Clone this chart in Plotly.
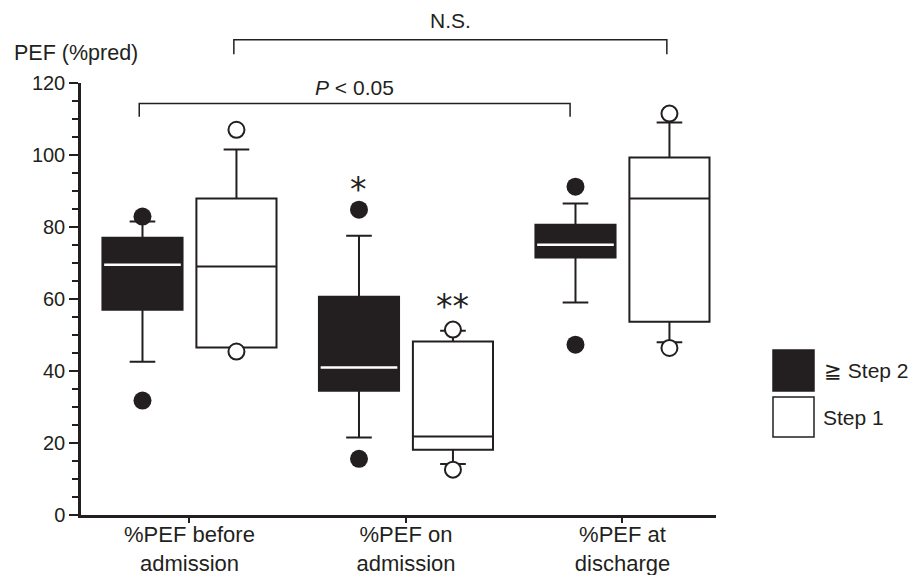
import plotly.graph_objects as go

# ---------------- data ----------------
categories = ["%PEF before<br>admission", "%PEF on<br>admission", "%PEF at<br>discharge"]

step2_q1 = [57.0, 34.5, 71.5]
step2_median = [69.5, 41.0, 75.1]
step2_q3 = [77.0, 60.6, 80.6]
step2_lower = [42.6, 21.5, 59.0]
step2_upper = [81.5, 77.6, 86.5]
step2_out_low = [31.8, 15.6, 47.3]
step2_out_high = [82.9, 84.8, 91.2]

step1_q1 = [46.5, 18.1, 53.7]
step1_median = [69.0, 21.8, 87.9]
step1_q3 = [87.9, 48.2, 99.3]
step1_lower = [46.5, 14.2, 48.0]
step1_upper = [101.5, 51.2, 109.0]
step1_out_low = [45.4, 12.6, 46.4]
step1_out_high = [107.0, 51.5, 111.5]

y_ticks = [0, 20, 40, 60, 80, 100, 120]

# ---------------- style / layout ----------------
INK = "#231f20"
FONT = "Liberation Sans, Arial, Helvetica, sans-serif"
OFFSET = 0.217
BOX_W = 0.37
HALF = BOX_W / 2
YMAX = 120.0

# page has an 8px body margin; figure sized so that it fits the window
FIG_W, FIG_H = 911, 567
ML, MT, MB = 73, 75, 60
PLOT_W = 635.0
PLOT_H = FIG_H - MT - MB
MR = FIG_W - ML - int(PLOT_W)

idx = list(range(len(categories)))
x2 = [i - OFFSET for i in idx]
x1 = [i + OFFSET for i in idx]

fig = go.Figure()

fig.add_trace(go.Box(
    x=x2, q1=step2_q1, median=step2_median, q3=step2_q3,
    lowerfence=step2_lower, upperfence=step2_upper,
    width=BOX_W, whiskerwidth=0.32, boxpoints=False,
    fillcolor=INK, line=dict(color=INK, width=2), name="≧ Step 2",
    hoverinfo="skip"))

fig.add_trace(go.Box(
    x=x1, q1=step1_q1, median=step1_median, q3=step1_q3,
    lowerfence=step1_lower, upperfence=step1_upper,
    width=BOX_W, whiskerwidth=0.32, boxpoints=False,
    fillcolor="white", line=dict(color=INK, width=2), name="Step 1",
    hoverinfo="skip"))

# white median lines for the filled boxes
mx, my = [], []
for xi, m in zip(x2, step2_median):
    mx += [xi - HALF + 0.008, xi + HALF - 0.008, None]
    my += [m, m, None]
fig.add_trace(go.Scatter(x=mx, y=my, mode="lines",
                         line=dict(color="white", width=2.5), hoverinfo="skip"))

# outliers
fig.add_trace(go.Scatter(x=x2 + x2, y=step2_out_low + step2_out_high, mode="markers",
                         marker=dict(size=18, color=INK, line=dict(width=0)),
                         hoverinfo="skip", cliponaxis=False))
fig.add_trace(go.Scatter(x=x1 + x1, y=step1_out_low + step1_out_high, mode="markers",
                         marker=dict(size=16, color="white", line=dict(width=2, color=INK)),
                         hoverinfo="skip", cliponaxis=False))

# significance marks
fig.add_annotation(x=x2[1], y=90.4, text="*", showarrow=False,
                   font=dict(size=33, color=INK, family="DejaVu Sans"), yanchor="middle")
fig.add_annotation(x=x1[1], y=57.8, text="**", showarrow=False,
                   font=dict(size=33, color=INK, family="DejaVu Sans"), yanchor="middle")

# brackets (y given in axis units, placed in paper coords above the plot)
def bracket(xa, xb, ytop, ybot, label, ylab):
    pts = [(xa, ybot), (xa, ytop), (xb, ytop), (xb, ybot)]
    path = "M " + " L ".join(f"{px},{py / YMAX}" for px, py in pts)
    fig.add_shape(type="path", path=path, xref="x", yref="paper",
                  line=dict(color=INK, width=1.5))
    fig.add_annotation(x=(xa + xb) / 2, y=ylab / YMAX, xref="x", yref="paper",
                       text=label, showarrow=False, yanchor="middle", borderpad=0,
                       font=dict(size=21, color=INK, family=FONT))

bracket(x2[0] - 0.015, x2[2] - 0.025, 114.3, 110.6, "<i>P</i> &lt; 0.05", 118.7)
bracket(x1[0] - 0.012, x1[2] - 0.012, 132.0, 128.0, "N.S.", 137.3)

# pixel helpers for layout-only items (page coords -> paper coords)
def pxx(p):
    return (p - 8 - ML) / PLOT_W
def pyy(p):
    return (FIG_H - MB + 8 - p) / PLOT_H

# y-axis title
fig.add_annotation(x=pxx(12), y=pyy(53), xref="paper", yref="paper", text="PEF (%pred)",
                   showarrow=False, xanchor="left", yanchor="middle",
                   font=dict(size=21.5, color=INK, family=FONT))

# legend (drawn by hand)
fig.add_shape(type="rect", xref="paper", yref="paper",
              x0=pxx(773), x1=pxx(814), y0=pyy(391), y1=pyy(350),
              fillcolor=INK, line=dict(color=INK, width=1.5))
fig.add_shape(type="rect", xref="paper", yref="paper",
              x0=pxx(773), x1=pxx(814), y0=pyy(437), y1=pyy(397),
              fillcolor="white", line=dict(color=INK, width=1.5))
fig.add_annotation(x=pxx(822), y=pyy(370), xref="paper", yref="paper", text="≧ Step 2",
                   showarrow=False, xanchor="left", yanchor="middle",
                   font=dict(size=21, color=INK, family=FONT))
fig.add_annotation(x=pxx(821), y=pyy(417), xref="paper", yref="paper", text="Step 1",
                   showarrow=False, xanchor="left", yanchor="middle",
                   font=dict(size=21, color=INK, family=FONT))

fig.update_layout(
    width=FIG_W, height=FIG_H,
    margin=dict(l=ML, r=MR, t=MT, b=MB, pad=0),
    plot_bgcolor="white", paper_bgcolor="white",
    showlegend=False,
    font=dict(family=FONT, size=20, color=INK),
    xaxis=dict(range=[-0.501, 2.432], tickvals=idx, ticktext=categories,
               showline=True, linecolor=INK, linewidth=2.5, automargin=False,
               ticks="outside", ticklen=5, tickwidth=2, tickcolor=INK,
               ticklabelstandoff=-7,
               showgrid=False, zeroline=False, fixedrange=True,
               tickfont=dict(size=22, color=INK, family=FONT)),
    yaxis=dict(range=[0, 120], tickvals=y_ticks, automargin=False,
               showline=True, linecolor=INK, linewidth=2.5,
               ticks="outside", ticklen=9, tickwidth=2, tickcolor=INK,
               minor=dict(dtick=5, ticks="outside", ticklen=6, tickwidth=2, tickcolor=INK),
               showgrid=False, zeroline=False, fixedrange=True,
               tickfont=dict(size=20, color=INK, family=FONT)),
)

fig.write_html("out.html")
